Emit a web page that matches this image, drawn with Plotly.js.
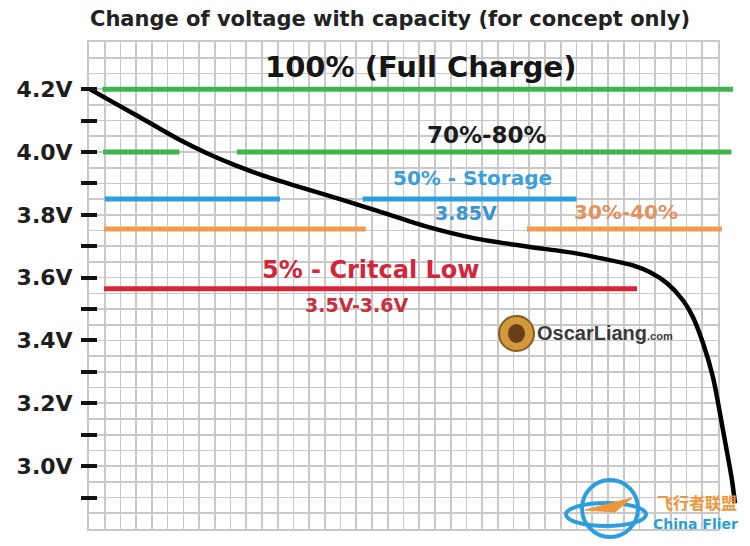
<!DOCTYPE html>
<html>
<head>
<meta charset="utf-8">
<script src="https://cdn.plot.ly/plotly-3.0.1.min.js"></script>
<style>html,body{margin:0;padding:0;background:#fff;}#chart{width:750px;height:546px;}</style>
</head>
<body>
<div id="chart"></div>
<script>
// ---- data ----
const yRange = [2.8, 4.35];
const gridXRange = [0, 40];
const yTickVals = [2.9, 3.0, 3.1, 3.2, 3.3, 3.4, 3.5, 3.6, 3.7, 3.8, 3.9, 4.0, 4.1, 4.2];
const yTickText = ['', '3.0V', '', '3.2V', '', '3.4V', '', '3.6V', '', '3.8V', '', '4.0V', '', '4.2V'];

// discharge curve (capacity in grid units, voltage)
const curveX = [0.06, 1.97, 3.88, 5.79, 7.50, 9.28, 11.19, 13.42, 15.96, 18.19, 21.37, 24.55, 27.73, 30.91, 32.50, 34.59, 35.68, 36.76, 37.77, 38.41, 39.05, 39.68, 40.32, 40.89, 41.08];
const curveV = [4.200, 4.146, 4.092, 4.038, 3.996, 3.958, 3.923, 3.888, 3.850, 3.815, 3.764, 3.725, 3.700, 3.678, 3.662, 3.639, 3.617, 3.582, 3.528, 3.474, 3.391, 3.283, 3.114, 2.955, 2.882];

// level bars
const levelNames = ['100%', '70%-80%', '50%', '30%-40%', '5%'];
const levelV = [4.2, 4.0, 3.85, 3.755, 3.565];
const levelStarts = [[0.85], [0.9, 9.4], [1.0, 17.4], [0.95, 27.85], [0.95]];
const levelEnds = [[40.95], [5.75, 40.85], [12.15, 31.0], [17.6, 40.25], [34.85]];
const levelColors = ['#3db54b', '#3db54b', '#2a9fe0', '#f29a50', '#d72639'];

// ---- geometry helpers (pixels -> paper) ----
const W = 750, H = 546;
const px = v => v / W;
const py = v => 1 - v / H;
const gridLeft = 89, gridRight = 718, gridTop = 42, gridBottom = 529, dataRight = 745;
const unit = (gridRight - gridLeft) / (gridXRange[1] - gridXRange[0]);

const traces = [];
traces.push({x: [], y: [], xaxis: 'x', yaxis: 'y', type: 'scatter', mode: 'lines', showlegend: false, hoverinfo: 'skip'});
levelV.forEach((v, i) => {
  const xs = [], ys = [];
  levelStarts[i].forEach((s, j) => {
    xs.push(s, levelEnds[i][j], null);
    ys.push(v, v, null);
  });
  traces.push({x: xs, y: ys, xaxis: 'x2', yaxis: 'y2', type: 'scatter', mode: 'lines', name: levelNames[i],
    line: {color: levelColors[i], width: 5}, showlegend: false, hoverinfo: 'skip'});
});
traces.push({x: curveX, y: curveV, xaxis: 'x2', yaxis: 'y2', type: 'scatter', mode: 'lines',
  line: {color: '#000', width: 4.5, shape: 'spline', smoothing: 0.8}, showlegend: false});

const F = 'DejaVu Sans';
function ann(text, x, y, size, color, weight) {
  return {text: text, x: px(x), y: py(y), xref: 'paper', yref: 'paper', xanchor: 'center', yanchor: 'middle',
    showarrow: false, font: {family: F, size: size, color: color, weight: weight || 'bold'}};
}

const gridColor = '#c9c9c9';
const layout = {
  width: W, height: H,
  margin: {l: 0, r: 0, t: 0, b: 0},
  paper_bgcolor: '#fff', plot_bgcolor: 'rgba(0,0,0,0)',
  title: {text: 'Change of voltage with capacity (for concept only)', x: px(390), y: py(19), xanchor: 'center', yanchor: 'middle',
    font: {family: F, size: 21, color: '#222', weight: 'bold'}},
  xaxis: {domain: [px(gridLeft), px(gridRight)], range: gridXRange, tick0: 0, dtick: 1, showgrid: true, gridcolor: gridColor, gridwidth: 1.7,
    showticklabels: false, ticks: '', zeroline: false, showline: true, linecolor: gridColor, linewidth: 1.7, mirror: true, anchor: 'y', fixedrange: true},
  yaxis: {domain: [py(gridBottom), py(gridTop)], range: yRange, tick0: 2.8, dtick: 0.05, showgrid: true, gridcolor: gridColor, gridwidth: 1.7,
    showticklabels: false, ticks: '', zeroline: false, showline: true, linecolor: gridColor, linewidth: 1.7, mirror: true, anchor: 'x', fixedrange: true},
  xaxis2: {domain: [px(gridLeft), px(dataRight)], range: [0, (dataRight - gridLeft) / unit], visible: false, anchor: 'y2', fixedrange: true},
  yaxis2: {domain: [py(gridBottom), py(gridTop)], range: yRange, anchor: 'free', position: px(97), side: 'left',
    tickmode: 'array', tickvals: yTickVals, ticktext: yTickText, ticks: 'outside', ticklen: 16, tickwidth: 4, tickcolor: '#111',
    showgrid: false, zeroline: false, showline: false, ticklabelstandoff: 4,
    tickfont: {family: F, size: 22, color: '#1e1e1e', weight: 'bold'}, fixedrange: true},
  annotations: [
    ann('100% (Full Charge)', 420, 67, 29, '#161616'),
    ann('70%-80%', 487, 135, 23, '#1c1c1c'),
    ann('50% - Storage', 472, 178, 20, '#3aa0dc'),
    ann('3.85V', 466, 213, 19, '#3a96d0'),
    ann('30%-40%', 626, 212, 20, '#e2925a'),
    ann('5% - Critcal Low', 371, 270, 24, '#d3263a'),
    ann('3.5V-3.6V', 357, 305, 19, '#c8303f'),
    {text: 'OscarLiang<span style="font-size:11px">.com</span>', x: px(535), y: py(333), xref: 'paper', yref: 'paper', xanchor: 'left', yanchor: 'middle',
      showarrow: false, font: {family: 'Liberation Sans Narrow, Liberation Sans', size: 20, color: '#3a3a3a', weight: 'bold'}},
    {text: '飞行者联盟', x: px(697), y: py(502), xref: 'paper', yref: 'paper', xanchor: 'center', yanchor: 'middle',
      showarrow: false, font: {family: 'Noto Sans CJK SC', size: 16, color: '#f0953a', weight: 'bold'}},
    {text: 'China Flier', x: px(695), y: py(524), xref: 'paper', yref: 'paper', xanchor: 'center', yanchor: 'middle',
      showarrow: false, font: {family: F, size: 14, color: '#2a9fe0', weight: 'bold'}}
  ],
  shapes: [
    {type: 'circle', xref: 'paper', yref: 'paper', x0: px(499), x1: px(534), y0: py(351), y1: py(316),
      fillcolor: '#d19a3c', line: {color: '#8b5a1e', width: 2}},
    {type: 'circle', xref: 'paper', yref: 'paper', x0: px(508), x1: px(525), y0: py(343), y1: py(324),
      fillcolor: '#6b3e1a', line: {width: 0}},
    {type: 'circle', xref: 'paper', yref: 'paper', x0: px(566), x1: px(646), y0: py(526), y1: py(503),
      fillcolor: 'rgba(0,0,0,0)', line: {color: '#2a9fe0', width: 4}},
    {type: 'circle', xref: 'paper', yref: 'paper', x0: px(582), x1: px(638), y0: py(537), y1: py(480),
      fillcolor: 'rgba(0,0,0,0)', line: {color: '#2a9fe0', width: 4}},
    {type: 'path', xref: 'paper', yref: 'paper', path: 'M ' + px(585) + ' ' + py(510) + ' L ' + px(632) + ' ' + py(498) + ' L ' + px(615) + ' ' + py(512) + ' Z',
      fillcolor: '#f0953a', line: {color: '#f0953a', width: 1}}
  ]
};

Plotly.newPlot('chart', traces, layout, {displayModeBar: false, staticPlot: true});
</script>
</body>
</html>
